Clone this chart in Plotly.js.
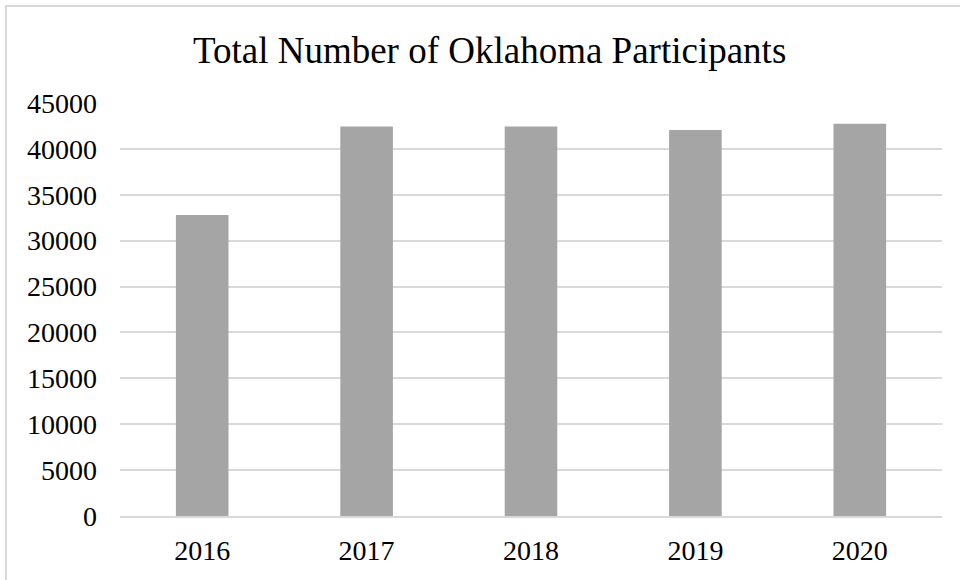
<!DOCTYPE html>
<html>
<head>
<meta charset="utf-8">
<script src="https://cdn.plot.ly/plotly-3.0.1.min.js"></script>
<style>
html,body{margin:0;padding:0;background:#fff;}
#frame{position:absolute;left:5px;top:5px;width:960px;height:580px;border:2px solid #d9d9d9;box-sizing:border-box;}
#chart{position:absolute;left:0;top:0;width:960px;height:580px;}
</style>
</head>
<body>
<div id="frame"></div>
<div id="chart"></div>
<script>
var years = ["2016", "2017", "2018", "2019", "2020"];
var participants = [32800, 42450, 42450, 42050, 42750];
var yTicks = [0, 5000, 10000, 15000, 20000, 25000, 30000, 35000, 40000, 45000];
var chartTitle = "Total Number of Oklahoma Participants";

var trace = {
  type: "bar",
  x: years,
  y: participants,
  marker: {color: "#a5a5a5"},
  hoverinfo: "x+y"
};

var layout = {
  width: 960,
  height: 580,
  paper_bgcolor: "rgba(0,0,0,0)",
  plot_bgcolor: "rgba(0,0,0,0)",
  margin: {l: 120, r: 18, t: 103, b: 64},
  font: {family: "Liberation Serif, Times New Roman, serif", color: "#000"},
  title: {
    text: chartTitle,
    font: {size: 37, family: "Liberation Serif, Times New Roman, serif", color: "#000"},
    x: 0.51, xanchor: "center", y: 0.913, yanchor: "middle"
  },
  bargap: 0.68,
  showlegend: false,
  xaxis: {
    type: "category",
    tickfont: {size: 28},
    showgrid: false,
    showline: true,
    linecolor: "#d9d9d9",
    linewidth: 2,
    ticks: "",
    ticklabelstandoff: 8
  },
  yaxis: {
    range: [0, 45000],
    tickvals: yTicks,
    ticktext: yTicks.map(String),
    tickfont: {size: 28},
    showgrid: true,
    gridcolor: "#d9d9d9",
    gridwidth: 2,
    zeroline: false,
    showline: false,
    ticks: "",
    ticklabelstandoff: 22
  }
};

Plotly.newPlot("chart", [trace], layout, {displayModeBar: false, staticPlot: true});
</script>
</body>
</html>
